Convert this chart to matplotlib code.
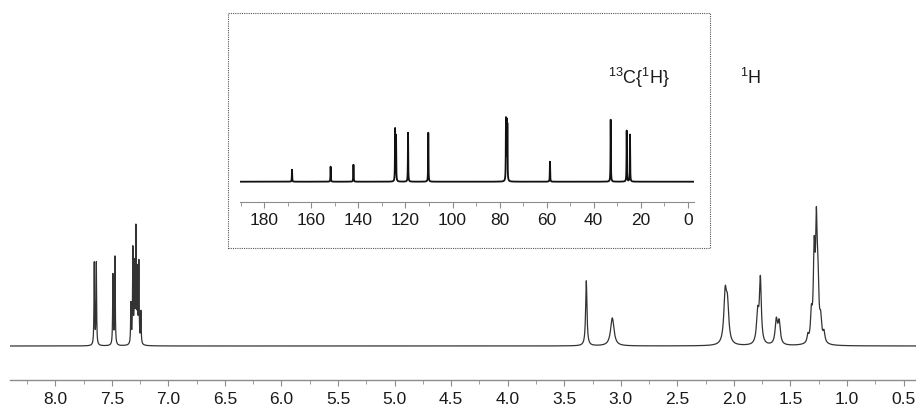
import numpy as np
import matplotlib.pyplot as plt
from matplotlib.ticker import MultipleLocator
from matplotlib.patches import Rectangle

plt.rcParams['font.family'] = ['Liberation Sans', 'DejaVu Sans']
plt.rcParams['mathtext.default'] = 'regular'

# 1H spectrum: peak positions (ppm), heights, half widths (ppm)
h_shift = [7.655, 7.637, 7.490, 7.472, 7.331, 7.314, 7.300, 7.287, 7.274, 7.261, 7.243,
           3.305, 3.075, 2.077, 2.057, 1.790, 1.766, 1.625, 1.600,
           1.346, 1.315, 1.290, 1.271, 1.258, 1.233, 1.204]
h_height = [82, 82, 70, 88, 40, 94, 76, 112, 70, 80, 32,
            65, 28, 48, 36, 30, 64, 24, 22,
            7, 26, 86, 100, 56, 20, 10]
h_width = [0.003, 0.003, 0.003, 0.003, 0.003, 0.003, 0.003, 0.003, 0.003, 0.003, 0.003,
           0.007, 0.018, 0.014, 0.014, 0.012, 0.010, 0.012, 0.012,
           0.008, 0.009, 0.009, 0.008, 0.010, 0.010, 0.010]

# 13C{1H} spectrum
c_shift = [168.2, 151.8, 142.1, 124.4, 124.0, 118.9, 110.3, 77.3, 77.0, 76.7, 58.6, 32.8, 26.0, 24.6]
c_height = [12, 15, 17, 52, 45, 49, 49, 60, 56, 54, 20, 62, 51, 47]
c_width = 0.08

h_ticks = [8.0, 7.5, 7.0, 6.5, 6.0, 5.5, 5.0, 4.5, 4.0, 3.5, 3.0, 2.5, 2.0, 1.5, 1.0, 0.5]
c_ticks = [180, 160, 140, 120, 100, 80, 60, 40, 20, 0]


def spectrum(x, shifts, heights, widths):
    y = np.zeros_like(x)
    widths = np.broadcast_to(widths, len(shifts))
    for s, hgt, w in zip(shifts, heights, widths):
        y += hgt * w**2 / ((x - s)**2 + w**2)
    return y


W, H = 916, 407
fig = plt.figure(figsize=(W / 100, H / 100), dpi=100)

line_col = '#333333'
axis_col = '#8c8c8c'
text_col = '#1a1a1a'

# main 1H axes (pixel-based layout)
ax = fig.add_axes([10 / W, (H - 380) / H, (W - 10) / W, 380 / H])
xh = np.linspace(8.4, 0.39, 20000)
ax.plot(xh, spectrum(xh, h_shift, h_height, h_width), color=line_col, lw=0.9)
ax.set_xlim(8.4, 0.39)
ax.set_ylim(-34, 346)
for s in ['top', 'left', 'right']:
    ax.spines[s].set_visible(False)
ax.spines['bottom'].set_color(axis_col)
ax.spines['bottom'].set_linewidth(1.0)
ax.set_yticks([])
ax.set_xticks(h_ticks)
ax.set_xticklabels([f'{t:.1f}' for t in h_ticks])
ax.xaxis.set_minor_locator(MultipleLocator(0.25))
ax.tick_params(axis='x', which='major', length=4, color=axis_col, labelsize=12.5,
               labelcolor=text_col, pad=5)
ax.tick_params(axis='x', which='minor', length=3, color=axis_col)
ax.patch.set_alpha(0)

# dotted inset frame
frame = Rectangle((228 / W, (H - 248) / H), (710 - 228) / W, (248 - 12.5) / H,
                  transform=fig.transFigure, fill=False, ls=(0, (1, 1)),
                  lw=0.8, ec='#555555')
fig.patches.append(frame)

# inset 13C axes
ins = fig.add_axes([240 / W, (H - 202) / H, (694 - 240) / W, 110 / H])
xc = np.linspace(190.3, -2.6, 40000)
ins.plot(xc, spectrum(xc, c_shift, c_height, c_width), color='#111111', lw=1.3)
ins.set_xlim(190.3, -2.6)
ins.set_ylim(-20.3, 89.7)
for s in ['top', 'left', 'right']:
    ins.spines[s].set_visible(False)
ins.spines['bottom'].set_color(axis_col)
ins.set_yticks([])
ins.set_xticks(c_ticks)
ins.xaxis.set_minor_locator(MultipleLocator(10))
ins.tick_params(axis='x', which='major', length=4, color=axis_col, labelsize=12.5,
                labelcolor=text_col, pad=4)
ins.tick_params(axis='x', which='minor', length=3, color=axis_col)
ins.patch.set_alpha(0)

fig.text(608 / W, (H - 78) / H, r'$^{13}$C{$^{1}$H}', fontsize=13, color=text_col,
         ha='left', va='center')
fig.text(740 / W, (H - 78) / H, r'$^{1}$H', fontsize=13, color=text_col,
         ha='left', va='center')

fig.savefig('out.png', dpi=100)
